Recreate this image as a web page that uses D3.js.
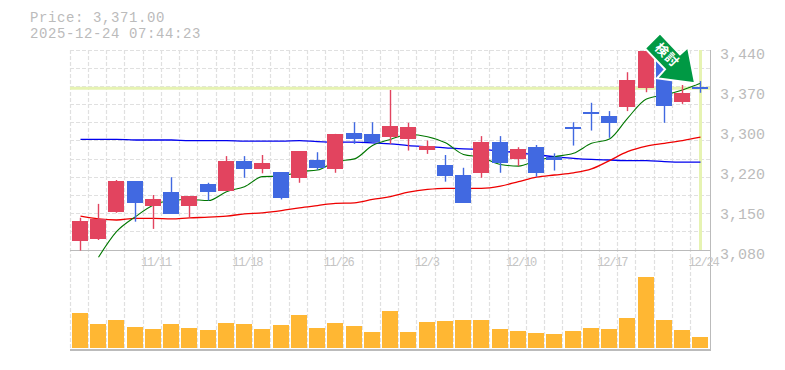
<!DOCTYPE html>
<html>
<head>
<meta charset="utf-8">
<script src="https://d3js.org/d3.v7.min.js"></script>
<style>
  body { margin: 0; background: #fff; overflow: hidden; }
  text { font-family: "Liberation Mono", monospace; fill: #bbb; }
</style>
</head>
<body>
<div class="chart"></div>
<script>
// daily data
const dates = ["11/5","11/6","11/7","11/10","11/11","11/12","11/13","11/14","11/17","11/18","11/19","11/20","11/21","11/25","11/26","11/27","11/28","12/1","12/2","12/3","12/4","12/5","12/8","12/9","12/10","12/11","12/12","12/15","12/16","12/17","12/18","12/19","12/22","12/23","12/24"];
const open = [3097,3099,3149,3204,3160,3184,3160,3199,3186,3240,3225,3220,3210,3242,3226,3291,3289,3284,3280,3260,3233,3215,3219,3274,3244,3265,3247,3299,3328,3321,3337,3372,3422,3346,3372];
const close = [3132,3136,3204,3165,3172,3145,3177,3185,3240,3225,3237,3174,3258,3228,3289,3280,3274,3303,3301,3267,3214,3165,3274,3237,3262,3219,3242,3299,3325,3309,3386,3439,3339,3363,3372];
const high = [3138,3163,3206,3204,3179,3211,3177,3201,3249,3249,3251,3220,3258,3256,3289,3310,3310,3368,3309,3277,3251,3228,3285,3285,3265,3269,3254,3310,3345,3330,3400,3439,3422,3377,3384];
const low = [3079,3098,3147,3131,3118,3145,3139,3169,3186,3210,3218,3171,3201,3224,3219,3271,3273,3271,3259,3253,3203,3165,3210,3219,3231,3212,3223,3268,3295,3282,3330,3364,3309,3343,3363];
const volume = [350,240,280,210,190,240,200,180,250,240,190,230,330,200,250,220,160,370,160,260,270,280,280,190,170,150,140,170,200,190,300,710,280,180,110];

// moving averages (the short one starts a day late)
const maShort = [null,3067,3113,3140,3161,3169,3171,3169,3185,3194,3212,3213,3221,3224,3239,3244,3268,3279,3288,3284,3273,3252,3247,3234,3231,3241,3248,3254,3272,3280,3317,3352,3359,3368,3380];
const maMid = [3141,3136,3134,3137,3137,3136,3138,3139,3141,3145,3147,3151,3156,3160,3164,3165,3171,3176,3184,3189,3191,3191,3191,3195,3203,3211,3215,3219,3226,3241,3257,3267,3272,3277,3283];
const maLong = [3279,3279,3279,3278,3278,3278,3277,3277,3277,3276,3276,3276,3277,3275,3274,3274,3273,3271,3268,3266,3264,3262,3261,3258,3255,3251,3248,3245,3243,3242,3241,3241,3239,3238,3238];

const lastPrice = 3371;
const priceTicks = [3440,3368,3296,3224,3152,3080];
const priceLabels = ["3,440","3,370","3,300","3,220","3,150","3,080"];
const dateTicks = ["11/11","11/18","11/26","12/3","12/10","12/17","12/24"];
const titleLines = ["Price: 3,371.00","2025-12-24 07:44:23"];
const gridRows = 11;

const grey = "#bbb", gridColor = "#e0e0e0", hilite = "#e6f3b2";
const red = "#e2445f", blue = "#4169e1", amber = "#ffb733";

const svg = d3.select(".chart").append("svg")
  .attr("width", 785)
  .attr("height", 370);

// scales
const x = d3.scaleBand().domain(dates).range([70.25, 70.25 + 18.25 * dates.length]);
const y = d3.scaleLinear().domain([3080, 3440]).range([250, 50]);
const yVol = d3.scaleLinear().domain([0, 800]).range([348, 268]);

const barLeft = d => Math.floor(x(d)) + 2;
const barMid = d => barLeft(d) + 8;

// dashed grid
const grid = svg.append("g")
  .attr("stroke", gridColor)
  .attr("stroke-width", 1.2)
  .attr("stroke-dasharray", "4,2");

grid.selectAll(".v").data(dates).enter().append("line")
  .attr("class", "v")
  .attr("x1", d => Math.round(x(d) - 0.6) + 0.5)
  .attr("x2", d => Math.round(x(d) - 0.6) + 0.5)
  .attr("y1", 50)
  .attr("y2", 350);

grid.selectAll(".h").data(d3.range(gridRows)).enter().append("line")
  .attr("class", "h")
  .attr("x1", 70)
  .attr("x2", 710)
  .attr("y1", d => Math.floor(y(3440 - d * 360 / gridRows)) + 0.5)
  .attr("y2", d => Math.floor(y(3440 - d * 360 / gridRows)) + 0.5);

// current price cross-hair
svg.append("line")
  .attr("x1", 70).attr("x2", 710)
  .attr("y1", y(lastPrice)).attr("y2", y(lastPrice))
  .attr("stroke", hilite).attr("stroke-width", 3);
svg.append("line")
  .attr("x1", barMid(dates[34]) + 0.5).attr("x2", barMid(dates[34]) + 0.5)
  .attr("y1", 50).attr("y2", 250)
  .attr("stroke", hilite).attr("stroke-width", 3);

// frame
const frame = svg.append("g")
  .attr("stroke", grey)
  .attr("shape-rendering", "crispEdges");
frame.append("line").attr("x1", 70).attr("x2", 711).attr("y1", 250.5).attr("y2", 250.5).attr("stroke-width", 1);
frame.append("line").attr("x1", 70).attr("x2", 711).attr("y1", 349.5).attr("y2", 349.5).attr("stroke-width", 2);
frame.append("line").attr("x1", 710.5).attr("x2", 710.5).attr("y1", 50).attr("y2", 350);

// moving averages, under the candles
const maLine = d3.line()
  .defined(d => d.v !== null)
  .x(d => barMid(d.date) + 0.5)
  .y(d => y(d.v))
  .curve(d3.curveMonotoneX);

[[maLong, "#0000ee", 1.3], [maMid, "#ee0000", 1.3], [maShort, "#007700", 1.1]].forEach(([values, color, w]) => {
  svg.append("path")
    .datum(values.map((v, i) => ({ date: dates[i], v })))
    .attr("fill", "none")
    .attr("stroke", color)
    .attr("stroke-width", w)
    .attr("d", maLine);
});

// candles
const candles = dates.map((date, i) => ({ date, o: open[i], c: close[i], h: high[i], l: low[i] }));
const candleColor = d => (d.c > d.o ? red : blue);

const candle = svg.selectAll(".candle").data(candles).enter().append("g")
  .attr("class", "candle");

candle.append("rect")
  .attr("x", d => barMid(d.date) - 0.2)
  .attr("width", 1.4)
  .attr("y", d => y(d.h))
  .attr("height", d => y(d.l) - y(d.h))
  .attr("fill", candleColor);

candle.append("rect")
  .attr("x", d => barLeft(d.date))
  .attr("width", 16)
  .attr("y", d => (d.c === d.o ? y(d.c) - 1 : y(Math.max(d.o, d.c))))
  .attr("height", d => Math.max(2, Math.abs(y(d.o) - y(d.c))))
  .attr("fill", candleColor)
  .attr("shape-rendering", "crispEdges");

// volume
svg.selectAll(".vol").data(volume).enter().append("rect")
  .attr("class", "vol")
  .attr("x", (d, i) => barLeft(dates[i]))
  .attr("width", 16)
  .attr("y", d => yVol(d))
  .attr("height", d => yVol(0) - yVol(d))
  .attr("fill", amber)
  .attr("shape-rendering", "crispEdges");

// axes
const xAxis = d3.axisBottom(x).tickValues(dateTicks).tickSize(0);
const gx = svg.append("g")
  .attr("transform", "translate(0,250)")
  .call(xAxis);
gx.select(".domain").remove();
gx.selectAll("text")
  .attr("text-anchor", "start")
  .attr("x", -11.5)
  .attr("y", 16)
  .attr("dy", 0)
  .style("font-family", '"Liberation Mono", monospace')
  .style("font-size", "12px")
  .style("letter-spacing", "-1.2px")
  .style("fill", "#c4c4c4");

const yAxis = d3.axisRight(y)
  .tickValues(priceTicks)
  .tickFormat((d, i) => priceLabels[i])
  .tickSize(0);
const gy = svg.append("g")
  .attr("transform", "translate(720,0)")
  .call(yAxis);
gy.select(".domain").remove();
gy.selectAll("text")
  .attr("x", 0)
  .attr("dy", 8)
  .style("font-family", '"Liberation Mono", monospace')
  .style("font-size", "15px")
  .style("fill", grey);

// title
svg.selectAll(".title").data(titleLines).enter().append("text")
  .attr("class", "title")
  .attr("x", 30)
  .attr("y", (d, i) => 22.2 + i * 15.9)
  .style("font-size", "14px")
  .style("letter-spacing", "0.6px")
  .text(d => d);

// signal arrow, hung off the last candle
const arrowShape = [[0,0],[-35,-50],[-15,-29],[-7,-36],[-38,-5],[-30,-14],[-50,-35]];
const arrowOrder = [1,2,3,0,4,5,6];
const arrow = svg.append("g")
  .attr("transform", `translate(${barMid(dates[34]) - 5},${y(lastPrice) - 5})`);
arrow.append("path")
  .attr("d", d3.line()(arrowOrder.map(i => arrowShape[i])) + "Z")
  .attr("fill", "#009944")
  .attr("stroke", "#fff")
  .attr("stroke-width", 2)
  .attr("stroke-linejoin", "miter");
arrow.append("text")
  .attr("transform", "translate(-27.5,-28.5) rotate(45)")
  .attr("text-anchor", "middle")
  .attr("dy", "0.38em")
  .style("font-family", '"Noto Sans CJK JP"')
  .style("font-weight", "bold")
  .style("font-size", "13px")
  .style("letter-spacing", "1px")
  .style("fill", "#fff")
  .text("検討");
</script>
</body>
</html>
